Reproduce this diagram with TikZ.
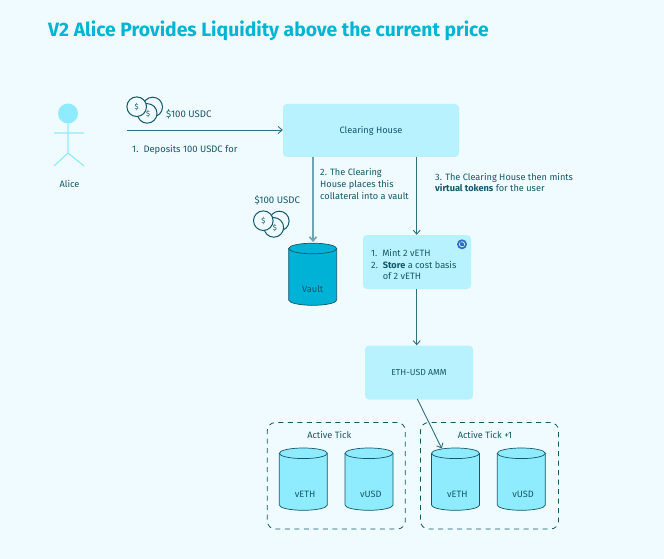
\documentclass[tikz,border=0pt]{standalone}
\usepackage{fontspec}
\setmainfont{Fira Sans}
\usetikzlibrary{arrows.meta}
\definecolor{bgc}{HTML}{EFFBFF}
\definecolor{boxc}{HTML}{B8F2FF}
\definecolor{cyl}{HTML}{8FECFF}
\definecolor{vault}{HTML}{00B2D6}
\definecolor{ink}{HTML}{14586B}
\definecolor{title}{HTML}{00B4D4}
\definecolor{lne}{HTML}{2E6F80}
\definecolor{lnesoft}{HTML}{6FA3B1}
\definecolor{logoc}{HTML}{2B6FC8}
\tikzset{
 every node/.style={text=ink,font=\fontsize{9.2}{11.7}\selectfont,inner sep=0pt},
 panel/.style={fill=boxc,rounded corners=4pt,draw=none},
 flow/.style={draw=lne,line width=0.9pt,-{Straight Barb[length=4pt,width=7pt]}},
 softflow/.style={flow,draw=lnesoft,line width=1.6pt},
 tickbox/.style={draw=ink,dash pattern=on 5pt off 4.5pt,line width=0.8pt,rounded corners=8pt},
 pers/.style={draw=cyl,line width=1.2pt},
 lbl/.style={align=left,anchor=north west},
}
\newcommand{\coinset}[2]{%
 \begin{scope}[shift={(#1,#2)}]
  \foreach \cx/\cy in {16/0.3,10.5/6.7,0/0}{
   \draw[ink,line width=1pt,fill=bgc] (\cx,\cy) circle (9.8);
  }
  \foreach \cx/\cy in {0/0,11.5/7.2}{
   \node[font=\fontsize{7.5}{8}\selectfont] at (\cx,\cy) {\$};
  }
 \end{scope}}
\newcommand{\cylinder}[8]{% x y w h fill name label label-shift
 \draw[ink,line width=0.7pt,fill=#5] (#1,#2) -- (#1,#2+#4) arc[x radius=#3/2,y radius=5.3,start angle=180,end angle=0] -- (#1+#3,#2);
 \draw[ink,line width=0.7pt,fill=#5] (#1+#3/2,#2) ellipse[x radius=#3/2,y radius=5.3];
 \node (#6) at (#1+#3/2+#8,#2+#4-11) {#7};
}
\begin{document}
\begin{tikzpicture}[x=1pt,y=-1pt]
\useasboundingbox (0,0) rectangle (664,559);
\fill[bgc] (0,0) rectangle (664,559);
\node[anchor=west,text=title,font=\fontsize{19.3}{22}\selectfont\bfseries] (ttl) at (48,31) {V2 Alice Provides Liquidity above the current price};
% actor
\fill[cyl] (68,113.500) circle (10);
\draw[pers] (68,123) -- (68,153) (54,133) -- (84,133) (54,166) -- (68,153) -- (84,166);
\node (alice) at (69.500,184) {Alice};
% boxes
\node[panel,minimum width=176,minimum height=53] (ch) at (371,130.500) {Clearing House};
\node[panel,minimum width=108,minimum height=54] (mint) at (417,262) {};
\node[panel,minimum width=108,minimum height=54,font=\fontsize{8.7}{11}\selectfont] (amm) at (419,372.500) {ETH-USD AMM};
\node[lbl] (mintt) at (371,249) {1.~~Mint 2 vETH\\2.~~\textbf{Store} a cost basis\\\phantom{2.~~}of 2 vETH};
% logo
\fill[logoc] (462,244.300) circle (5);
\draw[white,line width=0.6pt] (462,244.300) circle (2.6);
\draw[logoc,line width=0.8pt] (460,242.500) -- (464,246);
% coins
\coinset{136.700}{106.700}
\node[anchor=west,font=\fontsize{9.6}{11}\selectfont] (usdc1) at (166,114) {\$100 USDC};
\coinset{263.300}{220.700}
\node[font=\fontsize{9.6}{11}\selectfont] (usdc2) at (277.300,200.700) {\$100 USDC};
% labels
\node[anchor=west,font=\fontsize{9.4}{11}\selectfont] (step1) at (132,150) {1.~~Deposits 100 USDC for};
\node[lbl] (step2) at (320,168.500) {2. The Clearing\\House places this\\collateral into a vault};
\node[lbl] (step3) at (435,172.800) {3. The Clearing House then mints\\\textbf{virtual tokens} for the user};
% cylinders
\cylinder{288.700}{248.500}{48}{51.500}{vault}{vaultc}{Vault}{0}
\cylinder{279.300}{453.300}{48}{51.700}{cyl}{c1}{vETH}{1.8}
\cylinder{345}{453.300}{48}{51.700}{cyl}{c2}{vUSD}{1.8}
\cylinder{431.500}{453.300}{48}{51.700}{cyl}{c3}{vETH}{1.8}
\cylinder{497.300}{453.300}{48}{51.700}{cyl}{c4}{vUSD}{1.8}
% tick boxes
\node[tickbox,minimum width=138,minimum height=106.500] (t1) at (336.300,475.800) {};
\node[tickbox,minimum width=138,minimum height=106.500] (t2) at (489.500,475.800) {};
\node (t1l) at (329.300,434.700) {Active Tick};
\node (t2l) at (485,434.700) {Active Tick +1};
% connectors
\coordinate (start) at (126.500,130);
\draw[flow] (start) -- (ch.west |- start);
\coordinate (chA) at (313,157);
\coordinate (chB) at (416.700,157);
\coordinate (vaultin) at (313,242);
\coordinate (c3in) at (441.800,448.500);
\coordinate (ammo) at (417.300,399);
\draw[softflow] (chA) -- (vaultin);
\draw[flow] (chB) -- (chB |- mint.north);
\draw[flow] (chB |- mint.south) -- (chB |- amm.north);
\draw[flow] (ammo) -- (c3in);
\end{tikzpicture}
\end{document}
